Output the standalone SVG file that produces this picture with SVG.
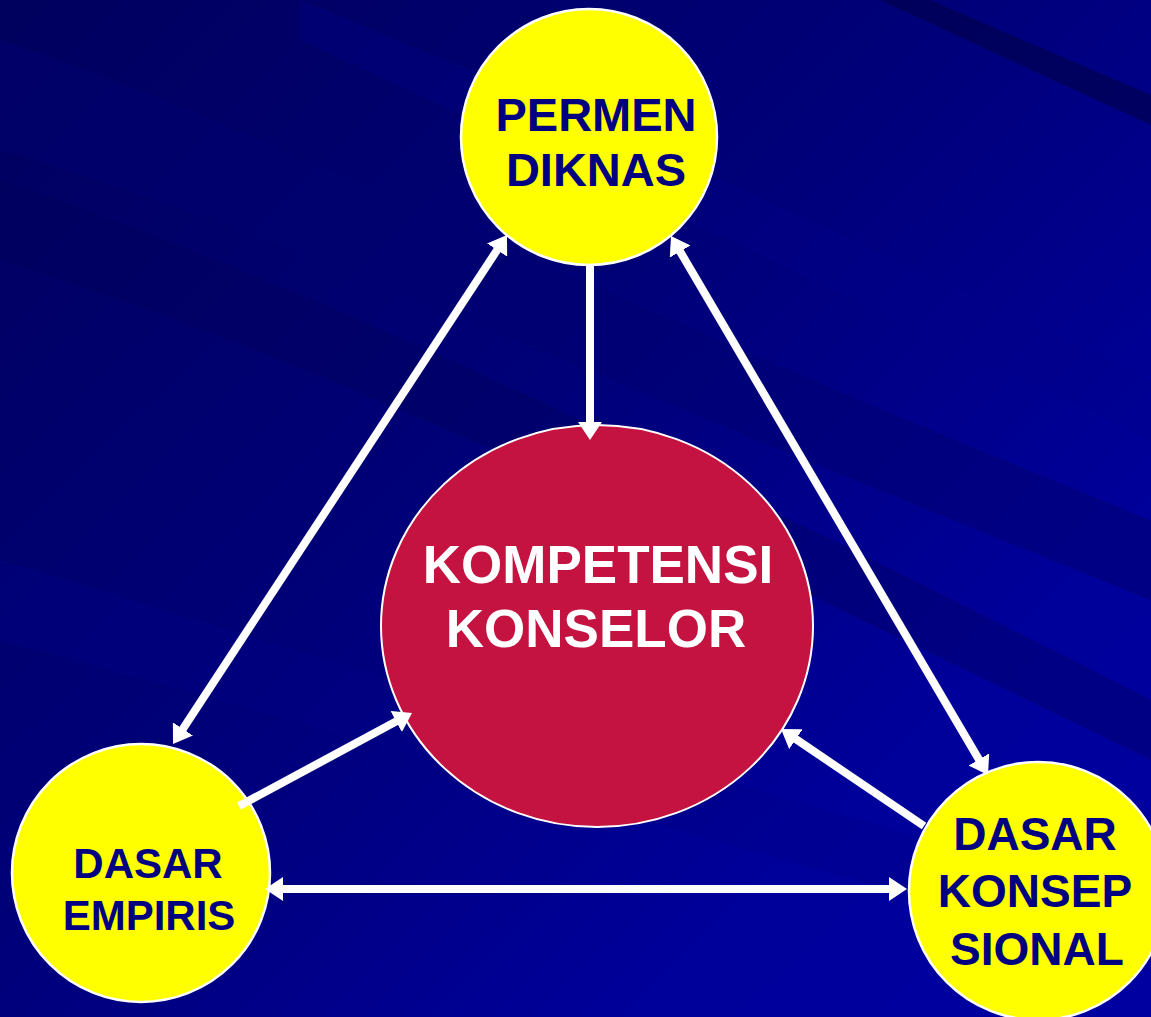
<svg xmlns="http://www.w3.org/2000/svg" width="1151" height="1017" viewBox="0 0 1151 1017">
<defs>
<linearGradient id="bg" x1="0" y1="0" x2="1" y2="0.9">
<stop offset="0" stop-color="#00005e"/>
<stop offset="0.45" stop-color="#000078"/>
<stop offset="0.8" stop-color="#00009a"/>
<stop offset="1" stop-color="#0000a0"/>
</linearGradient>
<marker id="ah" viewBox="0 0 18 24" refX="4" refY="12" markerWidth="18" markerHeight="24" markerUnits="userSpaceOnUse" orient="auto-start-reverse">
<path d="M0,0 L18,12 L0,24 Z" fill="#ffffff"/>
</marker>
<style>
.node-y{fill:#ffff00;stroke:#ffffff;stroke-width:2.5}
.node-r{fill:#c41241;stroke:#ffffff;stroke-width:2}
.t-dark{font-family:"Liberation Sans",Arial,sans-serif;font-weight:bold;fill:#000080;text-anchor:middle}
.t-white{font-family:"Liberation Sans",Arial,sans-serif;font-weight:bold;fill:#ffffff;text-anchor:middle;font-size:53px}
.conn{stroke:#ffffff;stroke-width:8;fill:none}
</style>
</defs>
<g id="background">
<rect x="0" y="0" width="1151" height="1017" fill="url(#bg)"/>
<path d="M0,40 C250,120 600,300 1151,520 L1151,600 C600,380 250,220 0,150 Z" fill="#000070" opacity="0.5"/>
<path d="M0,180 C300,280 700,470 1151,700 L1151,760 C700,540 300,350 0,260 Z" fill="#00005a" opacity="0.35"/>
<path d="M0,560 C300,650 700,780 1151,900 L1151,960 C700,840 300,720 0,640 Z" fill="#000088" opacity="0.35"/>
<path d="M880,0 L930,0 L1151,95 L1151,125 Z" fill="#000050" opacity="0.7"/>
<path d="M300,0 C600,120 900,260 1151,380 L1151,440 C900,320 600,180 300,40 Z" fill="#00008c" opacity="0.3"/>
</g>
<g id="node-permen">
<circle class="node-y" cx="589" cy="137" r="128"/>
<text class="t-dark" x="596" y="131" font-size="47">PERMEN</text>
<text class="t-dark" x="596" y="186" font-size="47">DIKNAS</text>
</g>
<g id="node-kompetensi">
<ellipse class="node-r" cx="597" cy="626" rx="216" ry="201"/>
<text class="t-white" x="598" y="583">KOMPETENSI</text>
<text class="t-white" x="596" y="647">KONSELOR</text>
</g>
<g id="node-empiris">
<circle class="node-y" cx="141" cy="873" r="129"/>
<text class="t-dark" x="148" y="878" font-size="42">DASAR</text>
<text class="t-dark" x="149" y="930" font-size="42">EMPIRIS</text>
</g>
<g id="node-konsepsional">
<circle class="node-y" cx="1038" cy="891" r="129"/>
<text class="t-dark" x="1035" y="850" font-size="46">DASAR</text>
<text class="t-dark" x="1035" y="907" font-size="46">KONSEP</text>
<text class="t-dark" x="1037" y="965" font-size="46">SIONAL</text>
</g>
<g id="connectors">
<line class="conn" x1="590" y1="265" x2="590" y2="426" marker-end="url(#ah)"/>
<line class="conn" x1="499.3" y1="246.7" x2="180.7" y2="732.3" marker-start="url(#ah)" marker-end="url(#ah)"/>
<line class="conn" x1="678.1" y1="248.1" x2="980.9" y2="762.9" marker-start="url(#ah)" marker-end="url(#ah)"/>
<line class="conn" x1="239" y1="806" x2="399.7" y2="719.6" marker-end="url(#ah)"/>
<line class="conn" x1="924" y1="826" x2="792.6" y2="736.9" marker-end="url(#ah)"/>
<line class="conn" x1="279" y1="889" x2="893" y2="889" marker-start="url(#ah)" marker-end="url(#ah)"/>
</g>
</svg>
